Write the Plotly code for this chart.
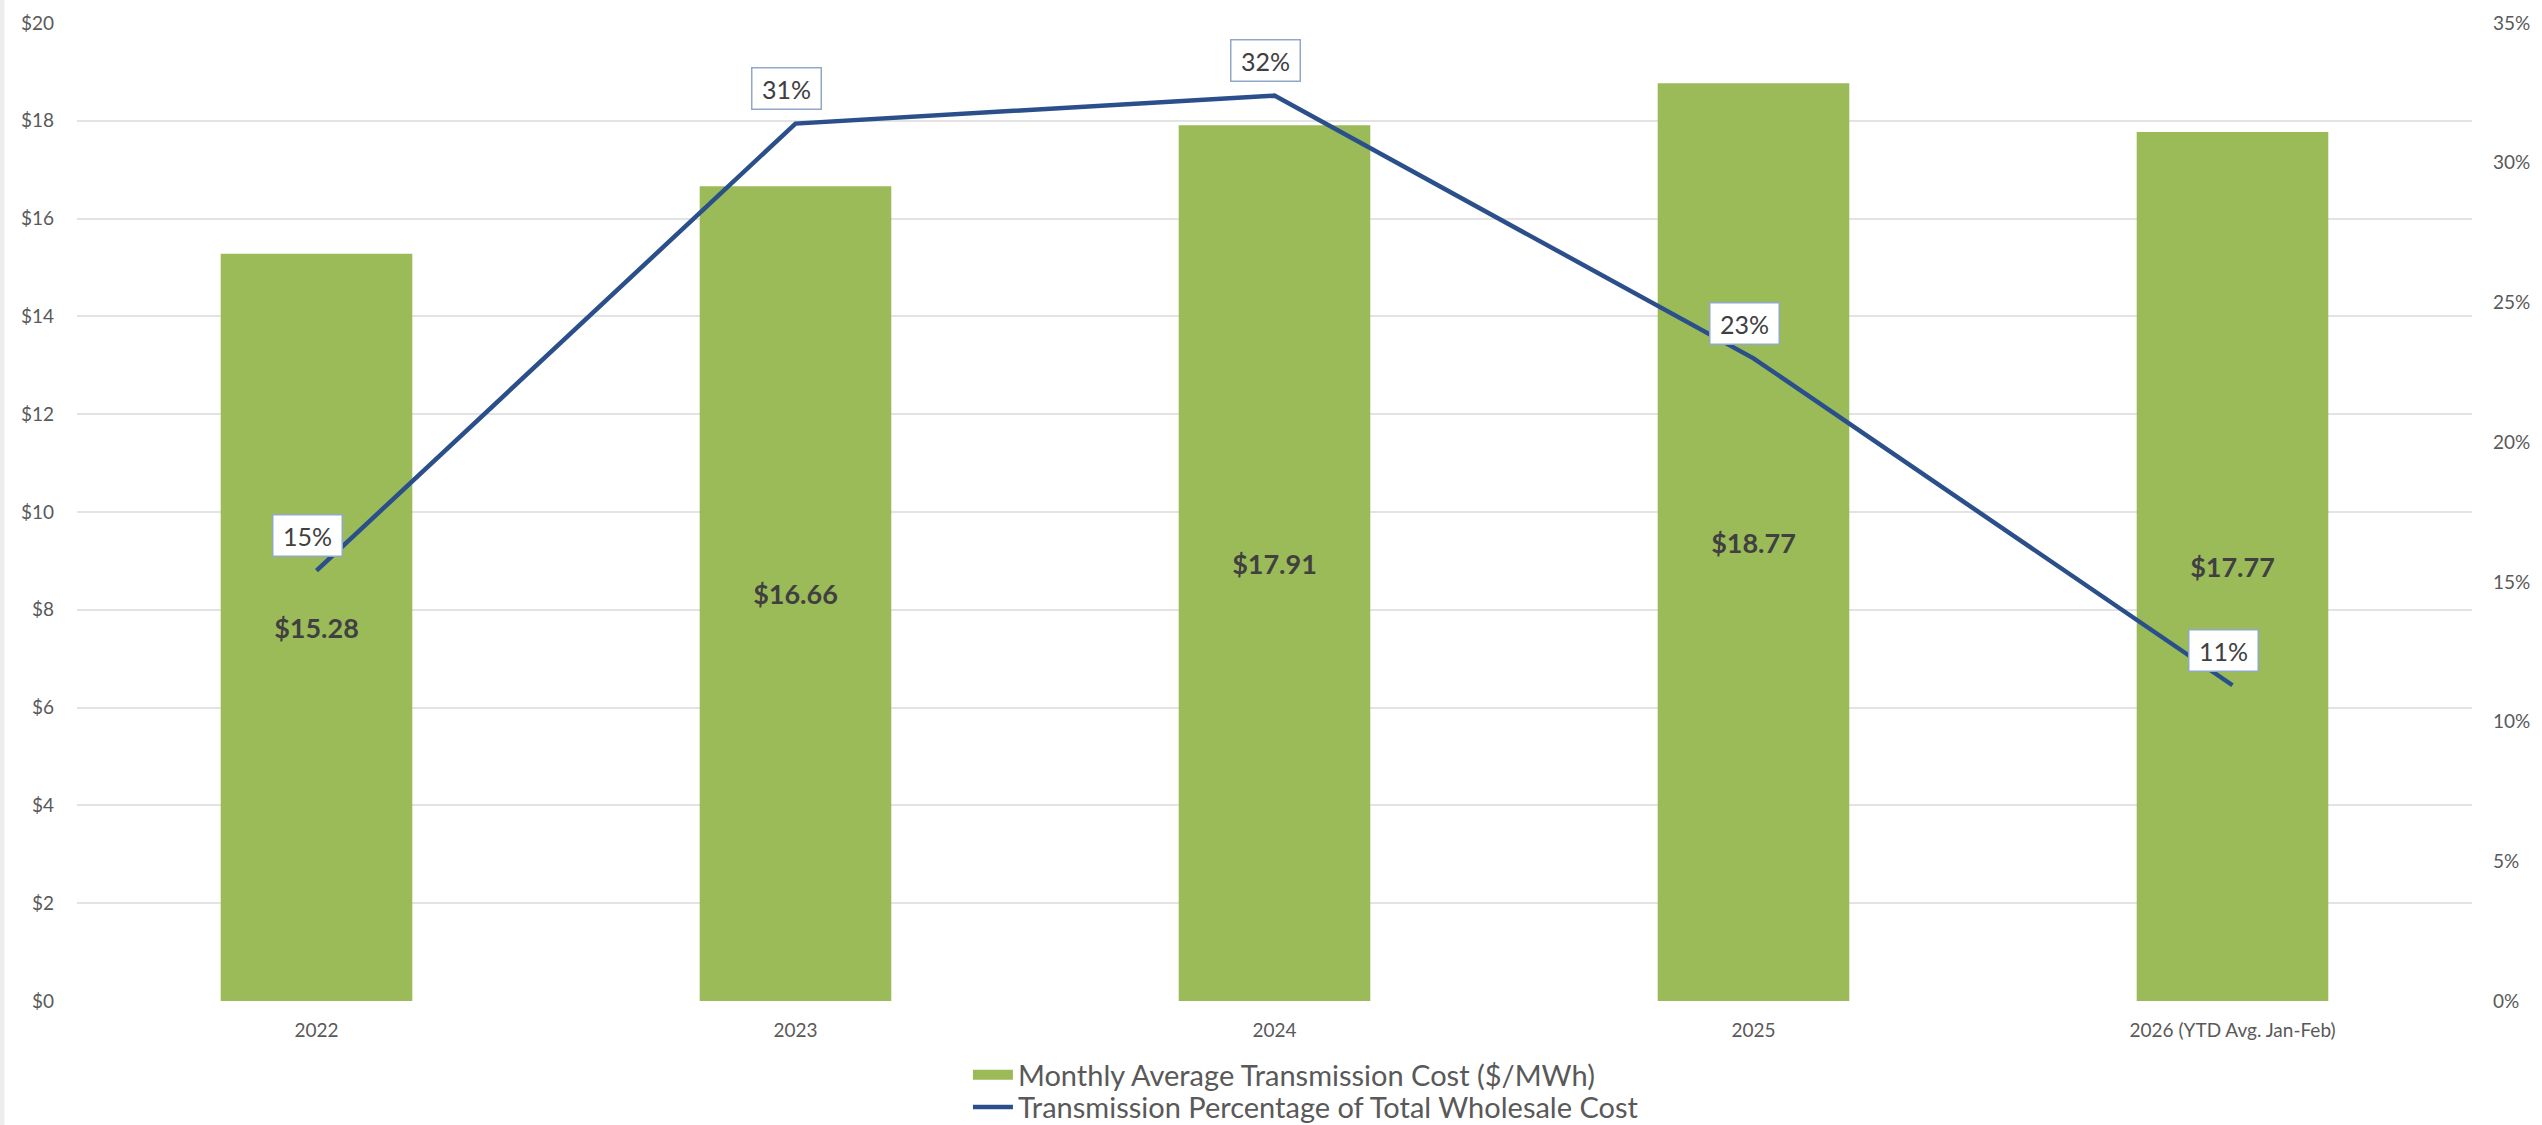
import plotly.graph_objects as go

categories = ["2022", "2023", "2024", "2025", "2026 (YTD Avg. Jan-Feb)"]
transmission_cost = [15.28, 16.66, 17.91, 18.77, 17.77]
transmission_pct = [15.4, 31.4, 32.4, 23.0, 11.3]
cost_ticks = list(range(0, 21, 2))
pct_ticks = list(range(0, 36, 5))

FONT = "Lato"
GREEN = "#9BBB59"
NAVY = "#2A4F8A"
TEXT = "#404040"
AXIS_TEXT = "#595959"
BAR_NAME = "Monthly Average Transmission Cost ($/MWh)"
LINE_NAME = "Transmission Percentage of Total Wholesale Cost"

fig = go.Figure()
fig.add_trace(go.Bar(
    x=categories, y=transmission_cost,
    name=BAR_NAME, showlegend=False, legendgroup="bar",
    marker=dict(color=GREEN, line=dict(width=0)),
    width=0.4,
    texttemplate="$%{y:.2f}", textposition="inside", insidetextanchor="middle",
    textangle=0, constraintext="none",
    textfont=dict(family=FONT, size=27, color=TEXT, weight="bold"),
    hoverinfo="skip",
))
# legend swatch for the bars (wide rectangle, as in the reference)
fig.add_trace(go.Scatter(
    x=[None], y=[None], name=BAR_NAME, legendgroup="bar", legend="legend",
    mode="lines", line=dict(color=GREEN, width=18), hoverinfo="skip",
))
fig.add_trace(go.Scatter(
    x=categories, y=transmission_pct, yaxis="y2",
    name=LINE_NAME, legend="legend2",
    mode="lines", line=dict(color=NAVY, width=4.5),
    hoverinfo="skip",
))

for i, v in enumerate(transmission_pct):
    fig.add_annotation(
        x=i, y=v, xref="x", yref="y2", text=f"{round(v)}%",
        showarrow=False, xshift=-9, yshift=35, width=58,
        bgcolor="white", bordercolor="#91A8C8", borderwidth=1.5, borderpad=5,
        font=dict(family=FONT, size=25, color=TEXT),
    )

# faint frame line at the left edge
fig.add_shape(type="line", xref="paper", yref="paper",
              x0=-0.0313, x1=-0.0313, y0=-0.13, y1=1.03,
              line=dict(color="#EDEDED", width=5), layer="below")

legend_common = dict(orientation="v", x=0.372, xanchor="left", yanchor="middle",
                     font=dict(family=FONT, size=29, color=AXIS_TEXT),
                     bgcolor="rgba(0,0,0,0)", itemwidth=40)

fig.update_layout(
    width=2542, height=1125,
    margin=dict(l=77, r=70, t=23, b=124, autoexpand=False),
    paper_bgcolor="white", plot_bgcolor="white",
    font=dict(family=FONT, color=AXIS_TEXT),
    showlegend=True,
    legend=dict(y=-0.0755, **legend_common),
    legend2=dict(y=-0.1085, **legend_common),
    xaxis=dict(type="category", categoryorder="array", categoryarray=categories,
               range=[-0.5, len(categories) - 0.5], autorange=False,
               showgrid=False, showline=False, zeroline=False, ticks="",
               tickfont=dict(family=FONT, size=19, color=AXIS_TEXT),
               ticklabelstandoff=16),
    yaxis=dict(range=[0, 20], tickvals=cost_ticks, ticktext=[f"${t}" for t in cost_ticks],
               showgrid=True, gridcolor="#E3E3E3", gridwidth=1.5,
               zeroline=False, showline=False, ticks="",
               tickfont=dict(family=FONT, size=19, color=AXIS_TEXT),
               ticklabelstandoff=22),
    yaxis2=dict(range=[0, 35], tickvals=pct_ticks, ticktext=[f"{t}%" for t in pct_ticks],
                overlaying="y", side="right", showgrid=False, zeroline=False,
                showline=False, ticks="",
                tickfont=dict(family=FONT, size=19, color=AXIS_TEXT),
                ticklabelstandoff=20),
)

fig.write_html(
    "out.html",
    config={"displayModeBar": False},
    post_script="document.body.style.margin='0px';document.body.style.overflow='hidden';",
)
